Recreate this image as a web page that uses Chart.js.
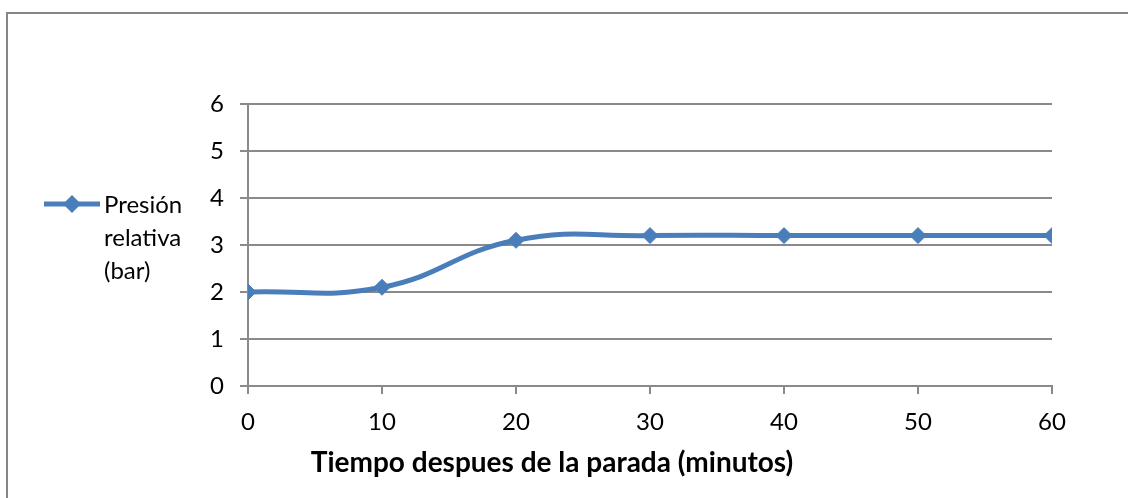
<!DOCTYPE html>
<html>
<head>
<meta charset="utf-8">
<script src="https://cdn.jsdelivr.net/npm/chart.js@4.4.0/dist/chart.umd.min.js"></script>
<style>
  html, body { margin: 0; padding: 0; background: #fff; overflow: hidden; }
  #wrap { position: relative; width: 1128px; height: 498px; }
</style>
</head>
<body>
<div id="wrap"><canvas id="c" width="1128" height="498"></canvas></div>
<script>
const minutes = [0, 10, 20, 30, 40, 50, 60];
const pressure = [2, 2.1, 3.1, 3.2, 3.2, 3.2, 3.2];
const yTicks = [0, 1, 2, 3, 4, 5, 6];
const seriesLabel = ['Presión', 'relativa', '(bar)'];
const xTitle = 'Tiempo despues de la parada (minutos)';

const FONT = "Lato, 'Open Sans', sans-serif";
const BLUE = '#4A7EBB';
const GRID = '#8a8a8a';

const framePlugin = {
  id: 'frame',
  beforeDraw(chart) {
    const ctx = chart.ctx;
    ctx.save();
    ctx.fillStyle = '#fff';
    ctx.fillRect(0, 0, chart.width, chart.height);
    ctx.strokeStyle = '#868686';
    ctx.lineWidth = 2;
    ctx.beginPath();
    ctx.moveTo(7, chart.height + 5);
    ctx.lineTo(7, 13);
    ctx.lineTo(chart.width + 5, 13);
    ctx.stroke();
    ctx.restore();
  },
  afterDraw(chart) {
    const ctx = chart.ctx;
    const ds = chart.data.datasets[0];
    ctx.save();
    // legend
    const ly = 204;
    ctx.strokeStyle = ds.borderColor;
    ctx.lineWidth = ds.borderWidth;
    ctx.beginPath();
    ctx.moveTo(44, ly);
    ctx.lineTo(100, ly);
    ctx.stroke();
    ctx.fillStyle = ds.pointBackgroundColor;
    ctx.beginPath();
    ctx.moveTo(72 - 9, ly); ctx.lineTo(72, ly - 9); ctx.lineTo(72 + 9, ly); ctx.lineTo(72, ly + 9);
    ctx.closePath();
    ctx.fill();
    ctx.fillStyle = '#000';
    ctx.font = '24px ' + FONT;
    ctx.textBaseline = 'alphabetic';
    ctx.textAlign = 'left';
    seriesLabel.forEach((t, i) => ctx.fillText(t, 104, 213 + i * 33));
    // x axis title
    ctx.font = 'bold 28px ' + FONT;
    ctx.textAlign = 'center';
    ctx.textBaseline = 'middle';
    ctx.fillText(xTitle, 552, 463);
    ctx.restore();
  }
};

new Chart(document.getElementById('c'), {
  type: 'line',
  data: {
    datasets: [{
      label: seriesLabel.join(' '),
      data: minutes.map((m, i) => ({ x: m, y: pressure[i] })),
      borderColor: BLUE,
      backgroundColor: BLUE,
      pointBackgroundColor: BLUE,
      pointBorderColor: BLUE,
      borderWidth: 5,
      pointStyle: 'rectRot',
      pointRadius: 8,
      pointBorderWidth: 1,
      tension: 0.45,
      fill: false
    }]
  },
  options: {
    responsive: false,
    animation: false,
    devicePixelRatio: 1,
    layout: { padding: { left: 0, top: 104, right: 76, bottom: 0 } },
    plugins: { legend: { display: false }, tooltip: { enabled: false } },
    scales: {
      x: {
        type: 'linear',
        min: 0, max: 60,
        afterBuildTicks(scale) { scale.ticks = minutes.map(v => ({ value: v })); },
        afterFit(scale) { scale.height = 112; },
        ticks: { color: '#000', font: { family: FONT, size: 24 }, padding: 14, maxRotation: 0 },
        grid: { drawOnChartArea: false, drawTicks: true, tickLength: 8, color: GRID, lineWidth: 2 },
        border: { display: true, color: GRID, width: 2 },
        title: { display: false }
      },
      y: {
        min: 0, max: 6,
        afterBuildTicks(scale) { scale.ticks = yTicks.map(v => ({ value: v })); },
        afterFit(scale) { scale.width = 248; },
        ticks: { color: '#000', font: { family: FONT, size: 24 }, padding: 16 },
        grid: { drawTicks: true, tickLength: 8, color: GRID, lineWidth: 2 },
        border: { display: true, color: GRID, width: 2 }
      }
    }
  },
  plugins: [framePlugin]
});
</script>
</body>
</html>
